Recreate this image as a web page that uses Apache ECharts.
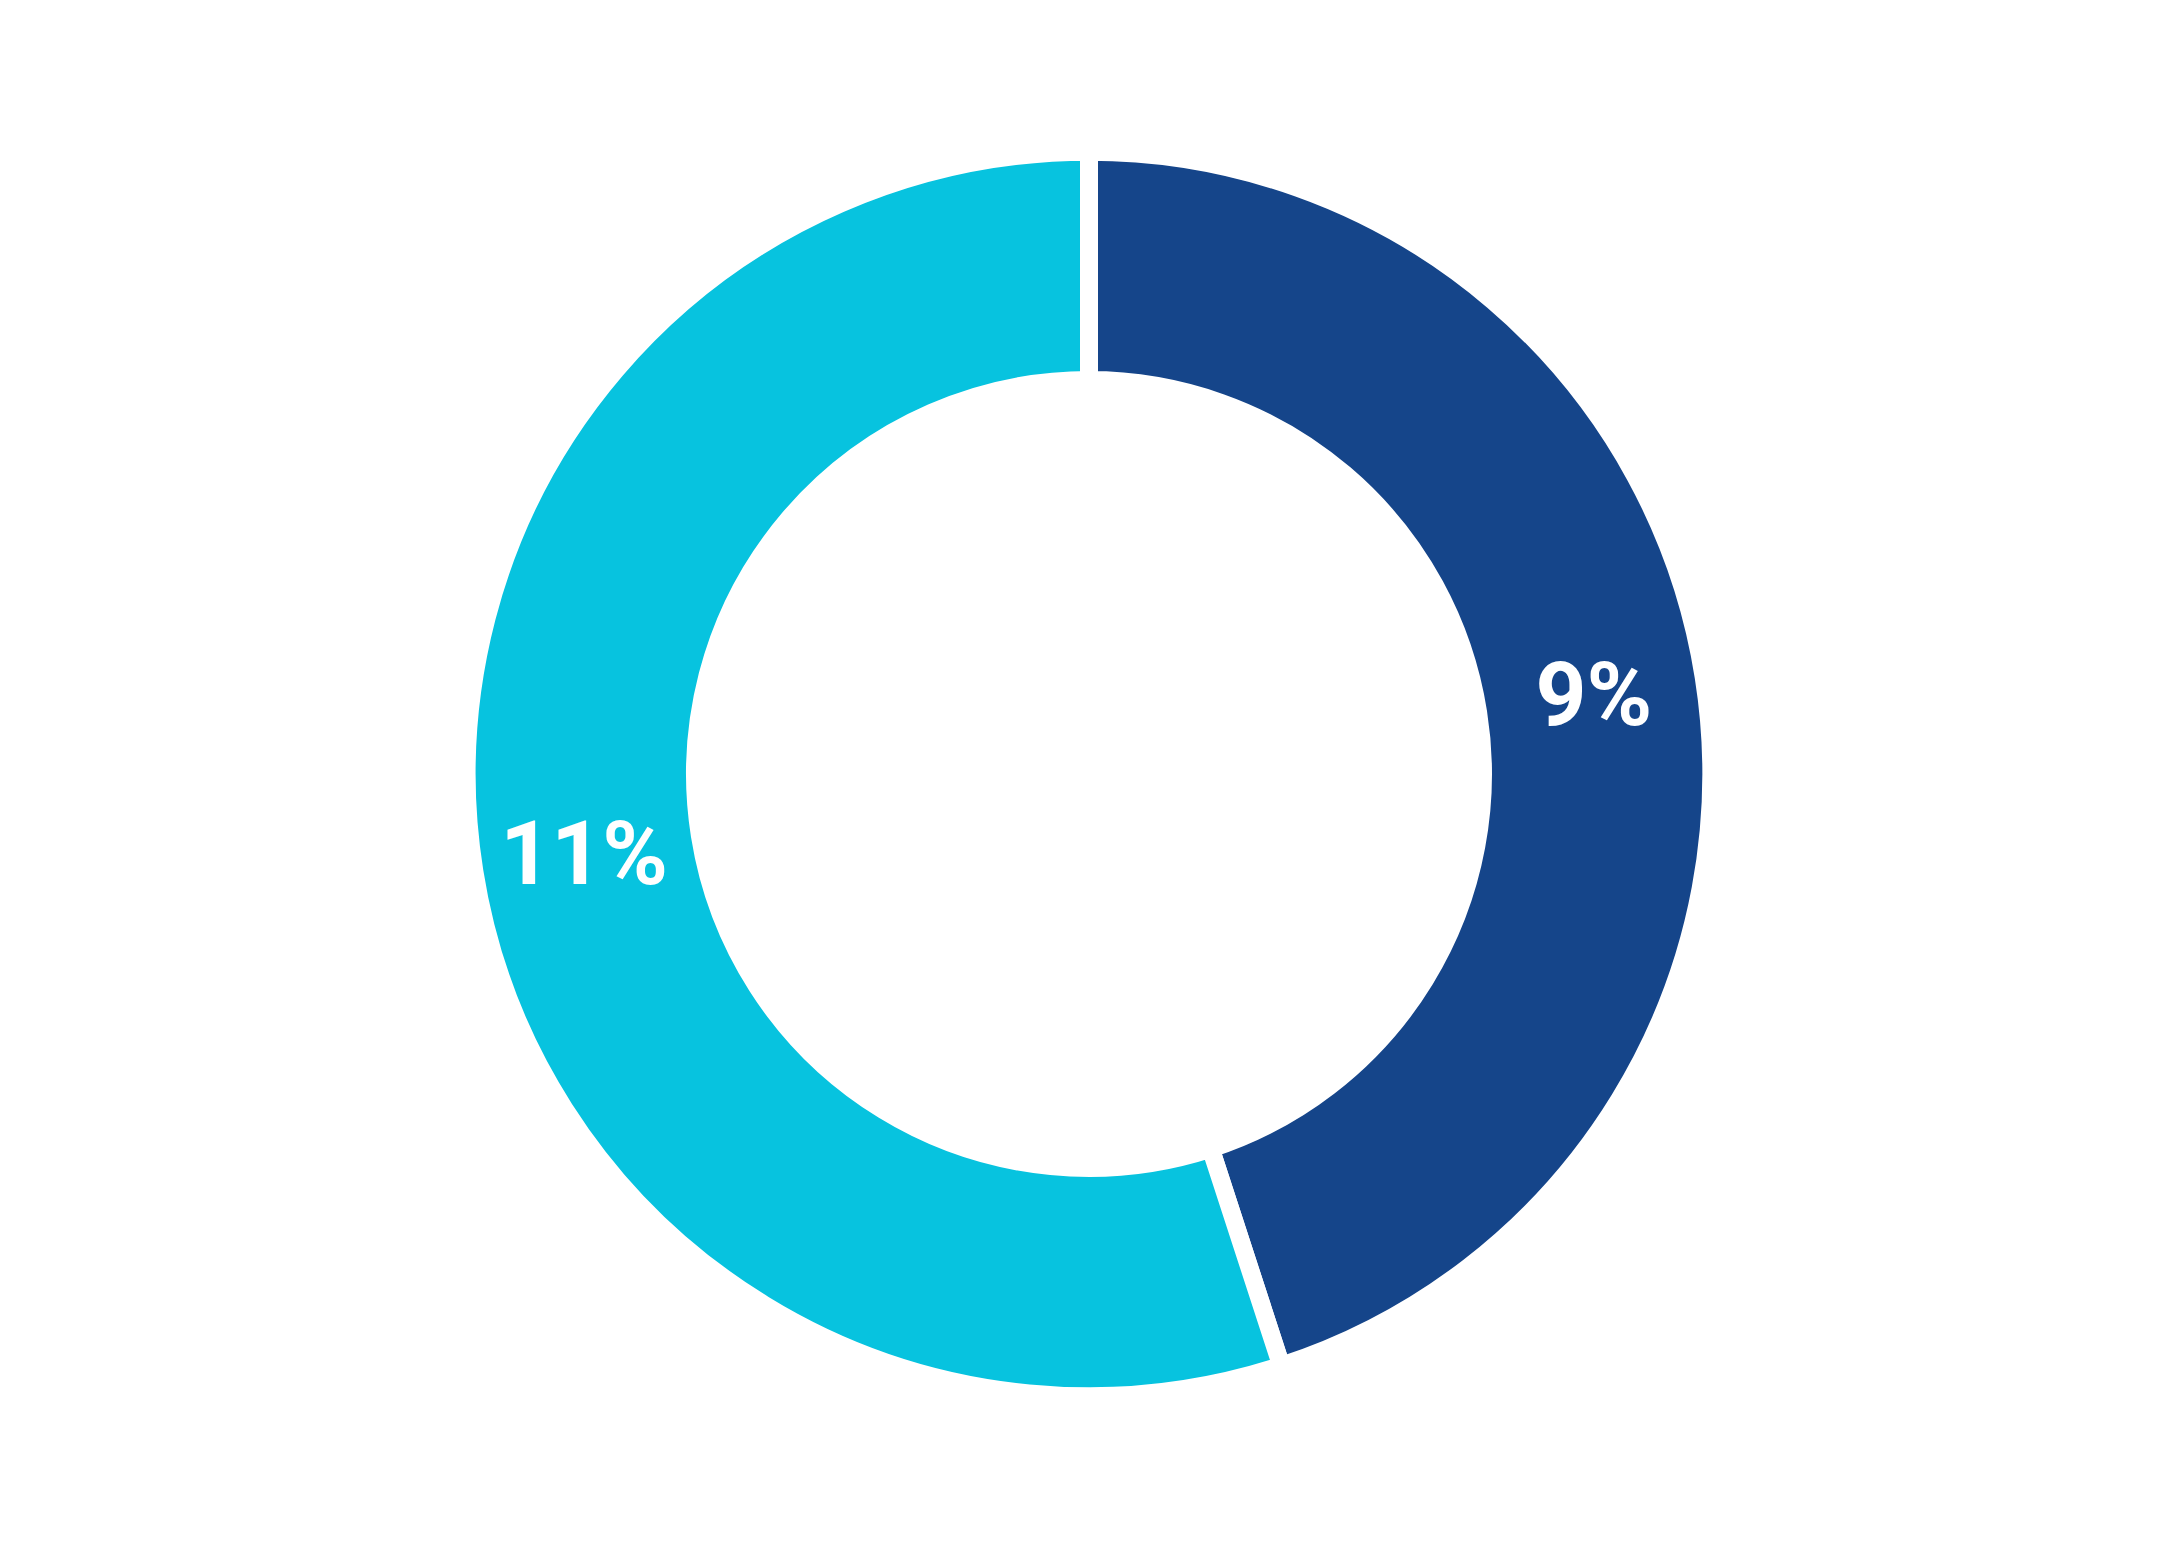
<!DOCTYPE html>
<html>
<head>
<meta charset="utf-8">
<script src="https://cdn.jsdelivr.net/npm/echarts@6/dist/echarts.min.js"></script>
<style>
html,body{margin:0;padding:0;background:#fff;}
#chart{width:2178px;height:1548px;}
</style>
</head>
<body>
<div id="chart"></div>
<script>
const categories = ['A', 'B'];
const values = [9, 11];
const labels = ['9%', '11%'];
const colors = ['#15458A', '#07C3DF'];

const chart = echarts.init(document.getElementById('chart'), null, { renderer: 'svg' });
chart.setOption({
  animation: false,
  backgroundColor: '#ffffff',
  series: [{
    type: 'pie',
    center: ['50%', '50%'],
    radius: ['50.9%', '80.4%'],
    startAngle: 90,
    clockwise: true,
    silent: true,
    itemStyle: { borderColor: '#ffffff', borderWidth: 18 },
    label: {
      show: true,
      position: 'inside',
      color: '#ffffff',
      fontFamily: 'Roboto',
      fontWeight: 'bold',
      fontSize: 89,
      formatter: p => labels[p.dataIndex]
    },
    labelLine: { show: false },
    data: categories.map((c, i) => ({ name: c, value: values[i], itemStyle: { color: colors[i] } }))
  }]
});
</script>
</body>
</html>
